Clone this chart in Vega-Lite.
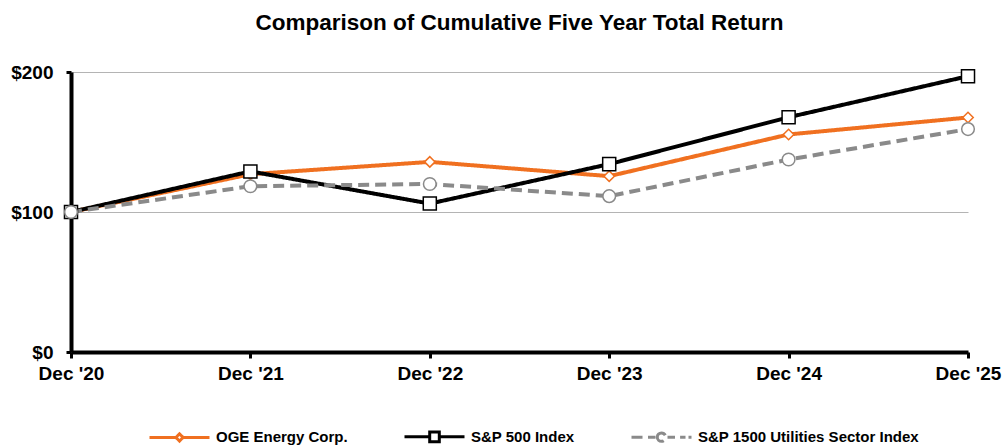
{
  "$schema": "https://vega.github.io/schema/vega-lite/v6.json",
  "width": 897,
  "height": 280,
  "autosize": "none",
  "padding": {"left": 71, "top": 72, "right": 37, "bottom": 93},
  "background": "white",
  "title": {
    "text": "Comparison of Cumulative Five Year Total Return",
    "font": "Liberation Sans",
    "fontSize": 22.5,
    "fontWeight": "bold",
    "color": "black",
    "offset": 29,
    "anchor": "middle"
  },
  "config": {
    "view": {"stroke": null},
    "font": "Liberation Sans"
  },
  "data": {
    "values": [
      {"series": "OGE Energy Corp.", "year": "Dec '20", "value": 100},
      {"series": "OGE Energy Corp.", "year": "Dec '21", "value": 127},
      {"series": "OGE Energy Corp.", "year": "Dec '22", "value": 135.8},
      {"series": "OGE Energy Corp.", "year": "Dec '23", "value": 125.6},
      {"series": "OGE Energy Corp.", "year": "Dec '24", "value": 155.4},
      {"series": "OGE Energy Corp.", "year": "Dec '25", "value": 167.5},
      {"series": "S&P 500 Index", "year": "Dec '20", "value": 100},
      {"series": "S&P 500 Index", "year": "Dec '21", "value": 129},
      {"series": "S&P 500 Index", "year": "Dec '22", "value": 106},
      {"series": "S&P 500 Index", "year": "Dec '23", "value": 134.2},
      {"series": "S&P 500 Index", "year": "Dec '24", "value": 167.7},
      {"series": "S&P 500 Index", "year": "Dec '25", "value": 197},
      {"series": "S&P 1500 Utilities Sector Index", "year": "Dec '20", "value": 100},
      {"series": "S&P 1500 Utilities Sector Index", "year": "Dec '21", "value": 118.4},
      {"series": "S&P 1500 Utilities Sector Index", "year": "Dec '22", "value": 120},
      {"series": "S&P 1500 Utilities Sector Index", "year": "Dec '23", "value": 111.3},
      {"series": "S&P 1500 Utilities Sector Index", "year": "Dec '24", "value": 137.5},
      {"series": "S&P 1500 Utilities Sector Index", "year": "Dec '25", "value": 159.2}
    ]
  },
  "encoding": {
    "x": {
      "field": "year",
      "type": "ordinal",
      "sort": null,
      "scale": {"type": "point", "padding": 0},
      "axis": {
        "title": null,
        "labelAngle": 0,
        "labelFont": "Liberation Sans",
        "labelFontSize": 19,
        "labelFontWeight": "bold",
        "labelColor": "black",
        "labelPadding": 6,
        "domainColor": "black",
        "domainWidth": 4,
        "tickColor": "black",
        "tickWidth": 3,
        "tickSize": 6,
        "grid": false
      }
    },
    "y": {
      "field": "value",
      "type": "quantitative",
      "scale": {"domain": [0, 200], "nice": false},
      "axis": {
        "title": null,
        "values": [0, 100, 200],
        "labelExpr": "'$' + datum.value",
        "labelFont": "Liberation Sans",
        "labelFontSize": 19,
        "labelFontWeight": "bold",
        "labelColor": "black",
        "labelPadding": 13,
        "domainColor": "black",
        "domainWidth": 4,
        "tickColor": "black",
        "tickWidth": 3,
        "tickSize": 5,
        "grid": true,
        "gridColor": "#b4b4b4",
        "gridWidth": 1
      }
    }
  },
  "layer": [
    {
      "mark": {"type": "line", "strokeWidth": 4},
      "encoding": {
        "strokeDash": {
          "field": "series",
          "type": "nominal",
          "scale": {
            "domain": ["OGE Energy Corp.", "S&P 500 Index", "S&P 1500 Utilities Sector Index"],
            "range": [[1, 0], [1, 0], [11, 6]]
          },
          "legend": null
        },
        "color": {
          "field": "series",
          "type": "nominal",
          "scale": {
            "domain": ["OGE Energy Corp.", "S&P 500 Index", "S&P 1500 Utilities Sector Index"],
            "range": ["#F07020", "#000000", "#8A8A8A"]
          },
          "legend": {
            "title": null,
            "orient": "none",
            "legendX": 77,
            "legendY": 333,
            "direction": "horizontal",
            "columnPadding": 50,
            "labelFont": "Liberation Sans",
            "labelFontSize": 15,
            "labelFontWeight": "bold",
            "labelColor": "black",
            "labelOffset": 5,
            "labelLimit": 400,
            "symbolSize": 3600,
            "symbolStrokeWidth": 3,
            "encode": {
              "symbols": {
                "update": {
                  "fill": {"value": "white"},
                  "size": {"value": 3600},
                  "shape": {"signal": "datum.value === 'OGE Energy Corp.' ? 'M-1,0H-0.12M0.12,0H1M0,-0.12L0.12,0L0,0.12L-0.12,0Z' : datum.value === 'S&P 500 Index' ? 'M-1,0H-0.16M0.16,0H1M-0.16,-0.16H0.16V0.16H-0.16Z' : 'M-1,0H-0.62M-0.45,0H-0.2M0.2,0H0.45M0.62,0H0.8M0.9,0H1M-0.14,0A0.14,0.14,0,1,1,0.14,0A0.14,0.14,0,1,1,-0.14,0Z'"},
                  "strokeDash": {"value": [1, 0]}
                }
              }
            }
          }
        }
      }
    },
    {
      "transform": [{"filter": "datum.series === 'OGE Energy Corp.'"}],
      "mark": {"type": "point", "shape": "diamond", "size": 110, "filled": false, "fill": "white", "fillOpacity": 1, "opacity": 1, "strokeWidth": 1.5, "stroke": "#F07020"}
    },
    {
      "transform": [{"filter": "datum.series === 'S&P 500 Index'"}],
      "mark": {"type": "point", "shape": "square", "size": 170, "filled": false, "fill": "white", "fillOpacity": 1, "opacity": 1, "strokeWidth": 1.5, "stroke": "#000000"}
    },
    {
      "transform": [{"filter": "datum.series === 'S&P 1500 Utilities Sector Index'"}],
      "mark": {"type": "point", "shape": "circle", "size": 160, "filled": false, "fill": "white", "fillOpacity": 1, "opacity": 1, "strokeWidth": 1.5, "stroke": "#8A8A8A"}
    }
  ]
}
